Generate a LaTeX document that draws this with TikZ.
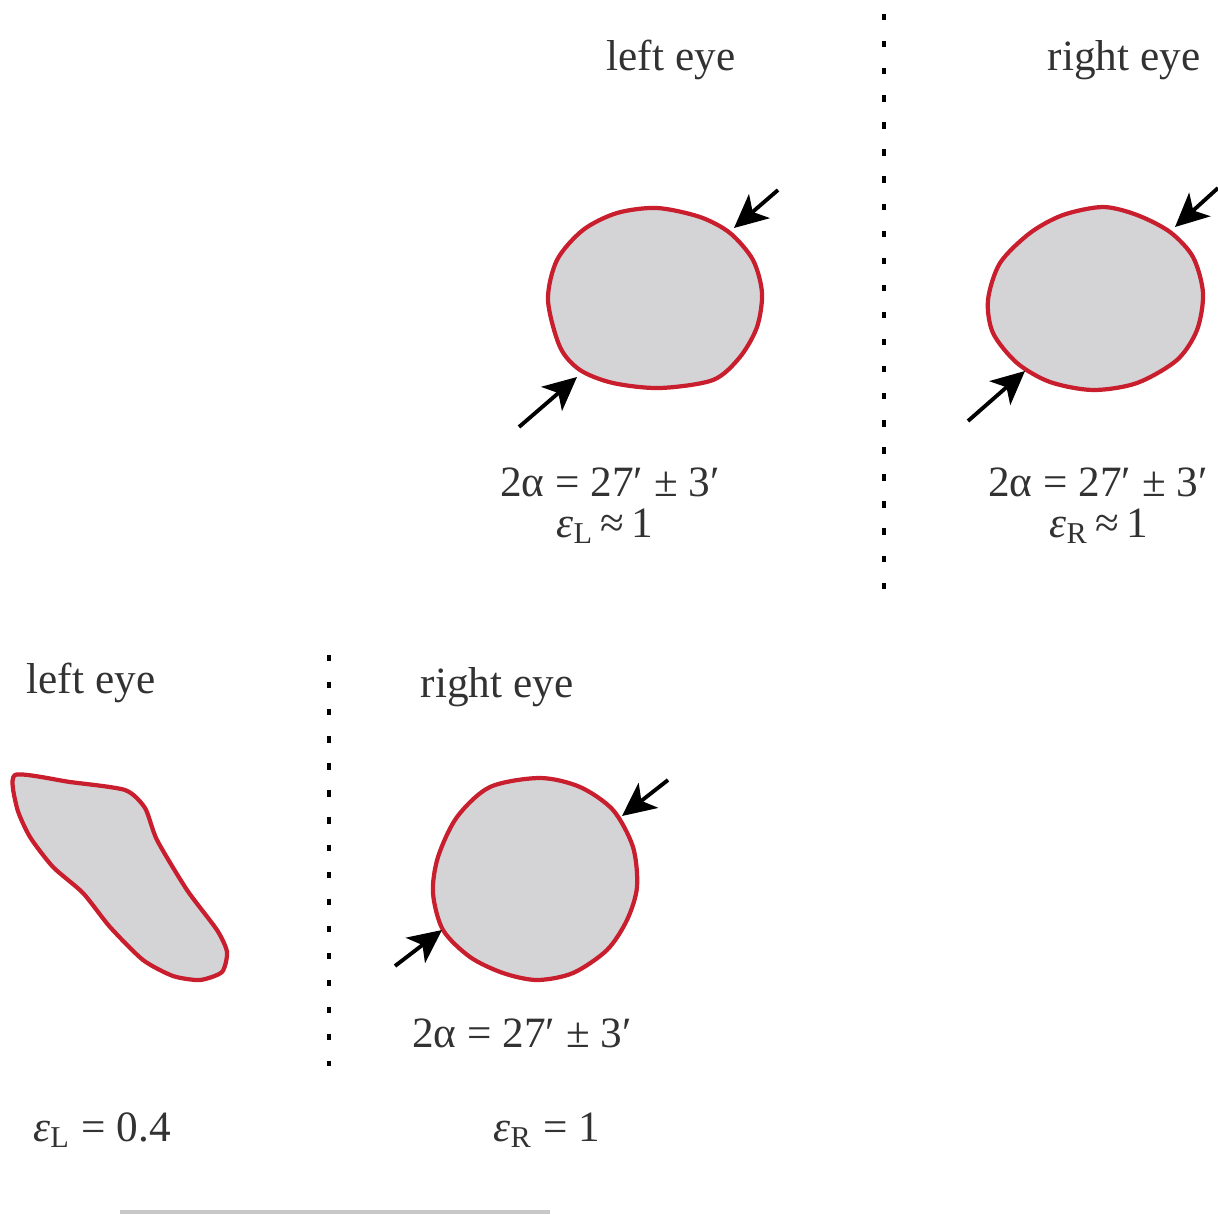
\documentclass[tikz,border=0pt]{standalone}
\usepackage{fontspec}
\setmainfont{Liberation Serif}
\usepackage{xcolor}
\definecolor{eyered}{RGB}{200,30,45}
\definecolor{eyegray}{RGB}{212,212,214}
\definecolor{txtgray}{RGB}{50,50,50}
\definecolor{rulegray}{RGB}{200,200,200}
\usetikzlibrary{arrows.meta}
\newcommand{\eccL}{\textit{ε}\textsubscript{L}}
\newcommand{\eccR}{\textit{ε}\textsubscript{R}}
\tikzset{
  eyelabel/.style={font=\fontsize{12.3}{14}\selectfont, text=txtgray, inner sep=0pt},
  pupil/.style={draw=eyered, fill=eyegray, line width=1.2pt},
  squeeze/.style={-{Stealth[length=9.5pt,width=9pt,inset=2.5pt]}, line width=1.1pt, black},
  divider/.style={line width=1.2pt, dash pattern=on 1.8pt off 5.9pt},
}

\begin{document}
\begin{tikzpicture}[x=0.01cm, y=-0.01cm]
  \useasboundingbox (0,0) rectangle (1218,1215);

  % Top pair: headers
  \node[eyelabel] (tlhead) at (671,60) {left eye};
  \node[eyelabel] (trhead) at (1124,60) {right eye};
  \draw[divider] (884,14) -- (884,592);

  % Top pair: pupils
  \draw[pupil] plot[smooth cycle] coordinates {(657,208) (700,217) (730,233) (753,260)
    (762,293) (757,327) (740,357) (713,380) (660,388) (613,383) (580,370) (560,347)
    (548,300) (557,260) (583,230) (617,213)};
  \draw[pupil] plot[smooth cycle] coordinates {(1103,207) (1137,215) (1170,232) (1193,257)
    (1203,293) (1197,330) (1177,360) (1137,383) (1093,390) (1050,382) (1017,363) (993,333)
    (988,300) (1000,263) (1030,233) (1063,215)};

  % Top pair: diameter arrows
  \coordinate (tlAout) at (778,190);  \coordinate (tlAin) at (734,228);
  \coordinate (tlBout) at (519,427);  \coordinate (tlBin) at (577,377);
  \coordinate (trAout) at (1218,188); \coordinate (trAin) at (1175,227);
  \coordinate (trBout) at (968,421);  \coordinate (trBin) at (1025,371);
  \draw[squeeze] (tlAout) -- (tlAin);
  \draw[squeeze] (tlBout) -- (tlBin);
  \draw[squeeze] (trAout) -- (trAin);
  \draw[squeeze] (trBout) -- (trBin);

  % Top pair: values
  \node[eyelabel] (tlsize) at (610,482) {2α = 27′ ± 3′};
  \node[eyelabel] (tlecc) at (605,526) {\eccL\,≈\,1};
  \node[eyelabel] (trsize) at (1098,482) {2α = 27′ ± 3′};
  \node[eyelabel] (trecc) at (1099,526) {\eccR\,≈\,1};

  % Bottom pair: headers
  \node[eyelabel] (blhead) at (91,683) {left eye};
  \node[eyelabel] (brhead) at (497,687) {right eye};
  \draw[divider] (329,655) -- (329,1066);

  % Bottom pair: pupils
  \draw[pupil] plot[smooth cycle, tension=0.4] coordinates {(15,775) (70,782) (125,790)
    (145,808) (157,840) (187,890) (217,930) (227,952) (222,972) (200,980) (173,976)
    (143,960) (110,927) (83,893) (53,867) (30,837) (17,808)};
  \draw[pupil] plot[smooth cycle] coordinates {(540,778) (580,787) (613,810) (633,847)
    (637,887) (627,920) (607,950) (573,973) (537,980) (503,973) (470,957) (443,930)
    (433,893) (438,857) (457,817) (490,787)};

  % Bottom pair: diameter arrows
  \coordinate (brAout) at (668,780); \coordinate (brAin) at (622,816);
  \coordinate (brBout) at (395,966); \coordinate (brBin) at (442,930);
  \draw[squeeze] (brAout) -- (brAin);
  \draw[squeeze] (brBout) -- (brBin);

  % Bottom pair: values
  \node[eyelabel] (brsize) at (522,1033) {2α = 27′ ± 3′};
  \node[eyelabel] (blecc) at (102,1130) {\eccL\ = 0.4};
  \node[eyelabel] (brecc) at (547,1130) {\eccR\ = 1};

  % Rule at the foot
  \draw[rulegray, line width=0.9pt] (120,1212) -- (550,1212);
\end{tikzpicture}
\end{document}
